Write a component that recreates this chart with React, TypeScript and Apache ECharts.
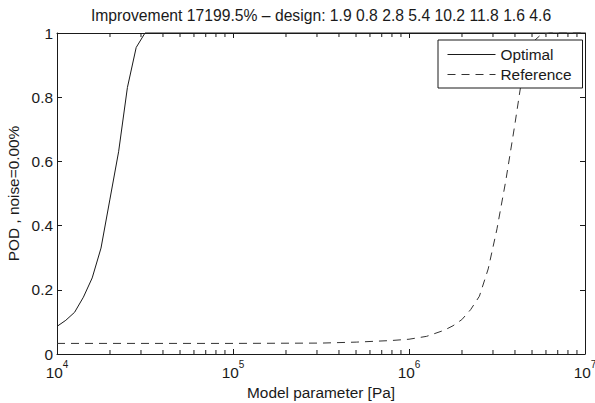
import React, { useEffect, useRef } from "react";
import * as echarts from "echarts";

const titleText = "Improvement 17199.5% – design: 1.9 0.8 2.8 5.4 10.2 11.8 1.6 4.6";
const xName = "Model parameter [Pa]";
const yName = "POD , noise=0.00%";
const seriesNames = ["Optimal", "Reference"];

// Model parameter values [Pa]
const optimalX = [10000, 11220, 12589, 14125, 15849, 17783, 19953, 22387, 25119, 28184, 31623, 10000000];
const optimalY = [0.086, 0.105, 0.13, 0.177, 0.237, 0.33, 0.48, 0.63, 0.83, 0.955, 1.0, 1.0];

const referenceX = [
  10000, 100000, 316228, 501187, 794328, 1000000, 1258925, 1584893, 1778279, 1995262,
  2238721, 2511886, 2818383, 3162278, 3548134, 3981072, 4466836, 5011872, 5623413, 6309573, 10000000,
];
const referenceY = [
  0.033, 0.033, 0.034, 0.037, 0.042, 0.046, 0.055, 0.074, 0.088, 0.107,
  0.138, 0.18, 0.265, 0.39, 0.54, 0.71, 0.89, 0.97, 0.995, 1.0, 1.0,
];

const yTicks = [0, 0.2, 0.4, 0.6, 0.8, 1];
const minorTickMultipliers = [2, 3, 4, 5, 6, 7, 8, 9];
const decades = [10000, 100000, 1000000];

const FONT = "'Liberation Sans', Arial, Helvetica, sans-serif";
const INK = "#1a1a1a";
const FS = 15.4;

export default function App() {
  const ref = useRef<HTMLDivElement>(null);

  useEffect(() => {
    if (!ref.current) return;
    const chart = echarts.init(ref.current, null, { renderer: "svg" });

    const minorVals: number[] = [];
    decades.forEach((d) => minorTickMultipliers.forEach((m) => minorVals.push(d * m)));

    const majorTick = { show: true, inside: true, length: 5, lineStyle: { color: INK, width: 1 } };
    const dash = [8, 6];

    const option: any = {
      animation: false,
      backgroundColor: "#fff",
      textStyle: { fontFamily: FONT, color: INK },
      title: {
        text: titleText,
        left: 321,
        top: 7,
        textAlign: "center",
        padding: 0,
        textStyle: { fontFamily: FONT, fontSize: 15.7, fontWeight: "normal", color: INK },
      },
      grid: { left: 57, right: 10, top: 33, bottom: 49, containLabel: false, outerBoundsMode: "none" },
      legend: {
        data: seriesNames,
        orient: "vertical",
        left: 438,
        top: 40,
        padding: [7, 11, 6, 9],
        itemWidth: 48,
        itemHeight: 13,
        itemGap: 5,
        backgroundColor: "#fff",
        borderColor: INK,
        borderWidth: 1,
        borderRadius: 0,
        itemStyle: { opacity: 0 },
        lineStyle: { width: 1 },
        textStyle: { fontFamily: FONT, fontSize: FS, color: INK },
      },
      xAxis: [
        {
          type: "log",
          logBase: 10,
          min: 10000,
          max: 10000000,
          name: xName,
          nameLocation: "middle",
          nameGap: 31,
          nameTextStyle: { fontFamily: FONT, fontSize: FS, color: INK },
          axisLine: { onZero: false, lineStyle: { color: INK, width: 1 } },
          axisTick: majorTick,
          splitLine: { show: false },
          axisLabel: {
            margin: 5,
            formatter: (v: number) => `{b|10}{s|${Math.round(Math.log10(v))}}`,
            rich: {
              b: { fontFamily: FONT, fontSize: FS, color: INK, lineHeight: 21, verticalAlign: "bottom" },
              s: { fontFamily: FONT, fontSize: 10, color: INK, lineHeight: 21, verticalAlign: "top" },
            },
          },
        },
        {
          type: "log",
          logBase: 10,
          min: 10000,
          max: 10000000,
          position: "top",
          axisLine: { onZero: false, lineStyle: { color: INK, width: 1 } },
          axisTick: majorTick,
          axisLabel: { show: false },
          splitLine: { show: false },
        },
      ],
      yAxis: [
        {
          type: "value",
          min: 0,
          max: 1,
          interval: 0.2,
          name: yName,
          nameLocation: "middle",
          nameGap: 31,
          nameTextStyle: { fontFamily: FONT, fontSize: FS, color: INK },
          axisLine: { show: true, onZero: false, lineStyle: { color: INK, width: 1 } },
          axisTick: majorTick,
          splitLine: { show: false },
          axisLabel: {
            margin: 4,
            fontFamily: FONT,
            fontSize: FS,
            color: INK,
            formatter: (v: number) => (yTicks.includes(v) ? String(v) : ""),
          },
        },
        {
          type: "value",
          min: 0,
          max: 1,
          interval: 0.2,
          position: "right",
          axisLine: { show: true, onZero: false, lineStyle: { color: INK, width: 1 } },
          axisTick: majorTick,
          axisLabel: { show: false },
          splitLine: { show: false },
        },
      ],
      series: [
        {
          name: seriesNames[0],
          type: "line",
          data: optimalX.map((x, i) => [x, optimalY[i]]),
          symbol: "none",
          lineStyle: { color: INK, width: 1, type: "solid" },
          itemStyle: { color: INK },
          clip: false,
          z: 3,
        },
        {
          name: seriesNames[1],
          type: "line",
          data: referenceX.map((x, i) => [x, referenceY[i]]),
          symbol: "none",
          lineStyle: { color: "#333", width: 1, type: dash },
          itemStyle: { color: "#333" },
          clip: false,
          z: 3,
        },
        {
          name: "minorTicksBottom",
          type: "scatter",
          silent: true,
          clip: false,
          data: minorVals.map((v) => [v, 0]),
          symbol: "rect",
          symbolSize: [1, 4],
          symbolOffset: [0, "-50%"],
          itemStyle: { color: INK, opacity: 1 },
        },
        {
          name: "minorTicksTop",
          type: "scatter",
          silent: true,
          clip: false,
          data: minorVals.map((v) => [v, 1]),
          symbol: "rect",
          symbolSize: [1, 4],
          symbolOffset: [0, "50%"],
          itemStyle: { color: INK, opacity: 1 },
        },
      ],
    };

    chart.setOption(option);
    return () => chart.dispose();
  }, []);

  return (
    <div
      ref={ref}
      style={{ position: "fixed", left: 0, top: 0, width: 595, height: 403, background: "#fff" }}
    />
  );
}
